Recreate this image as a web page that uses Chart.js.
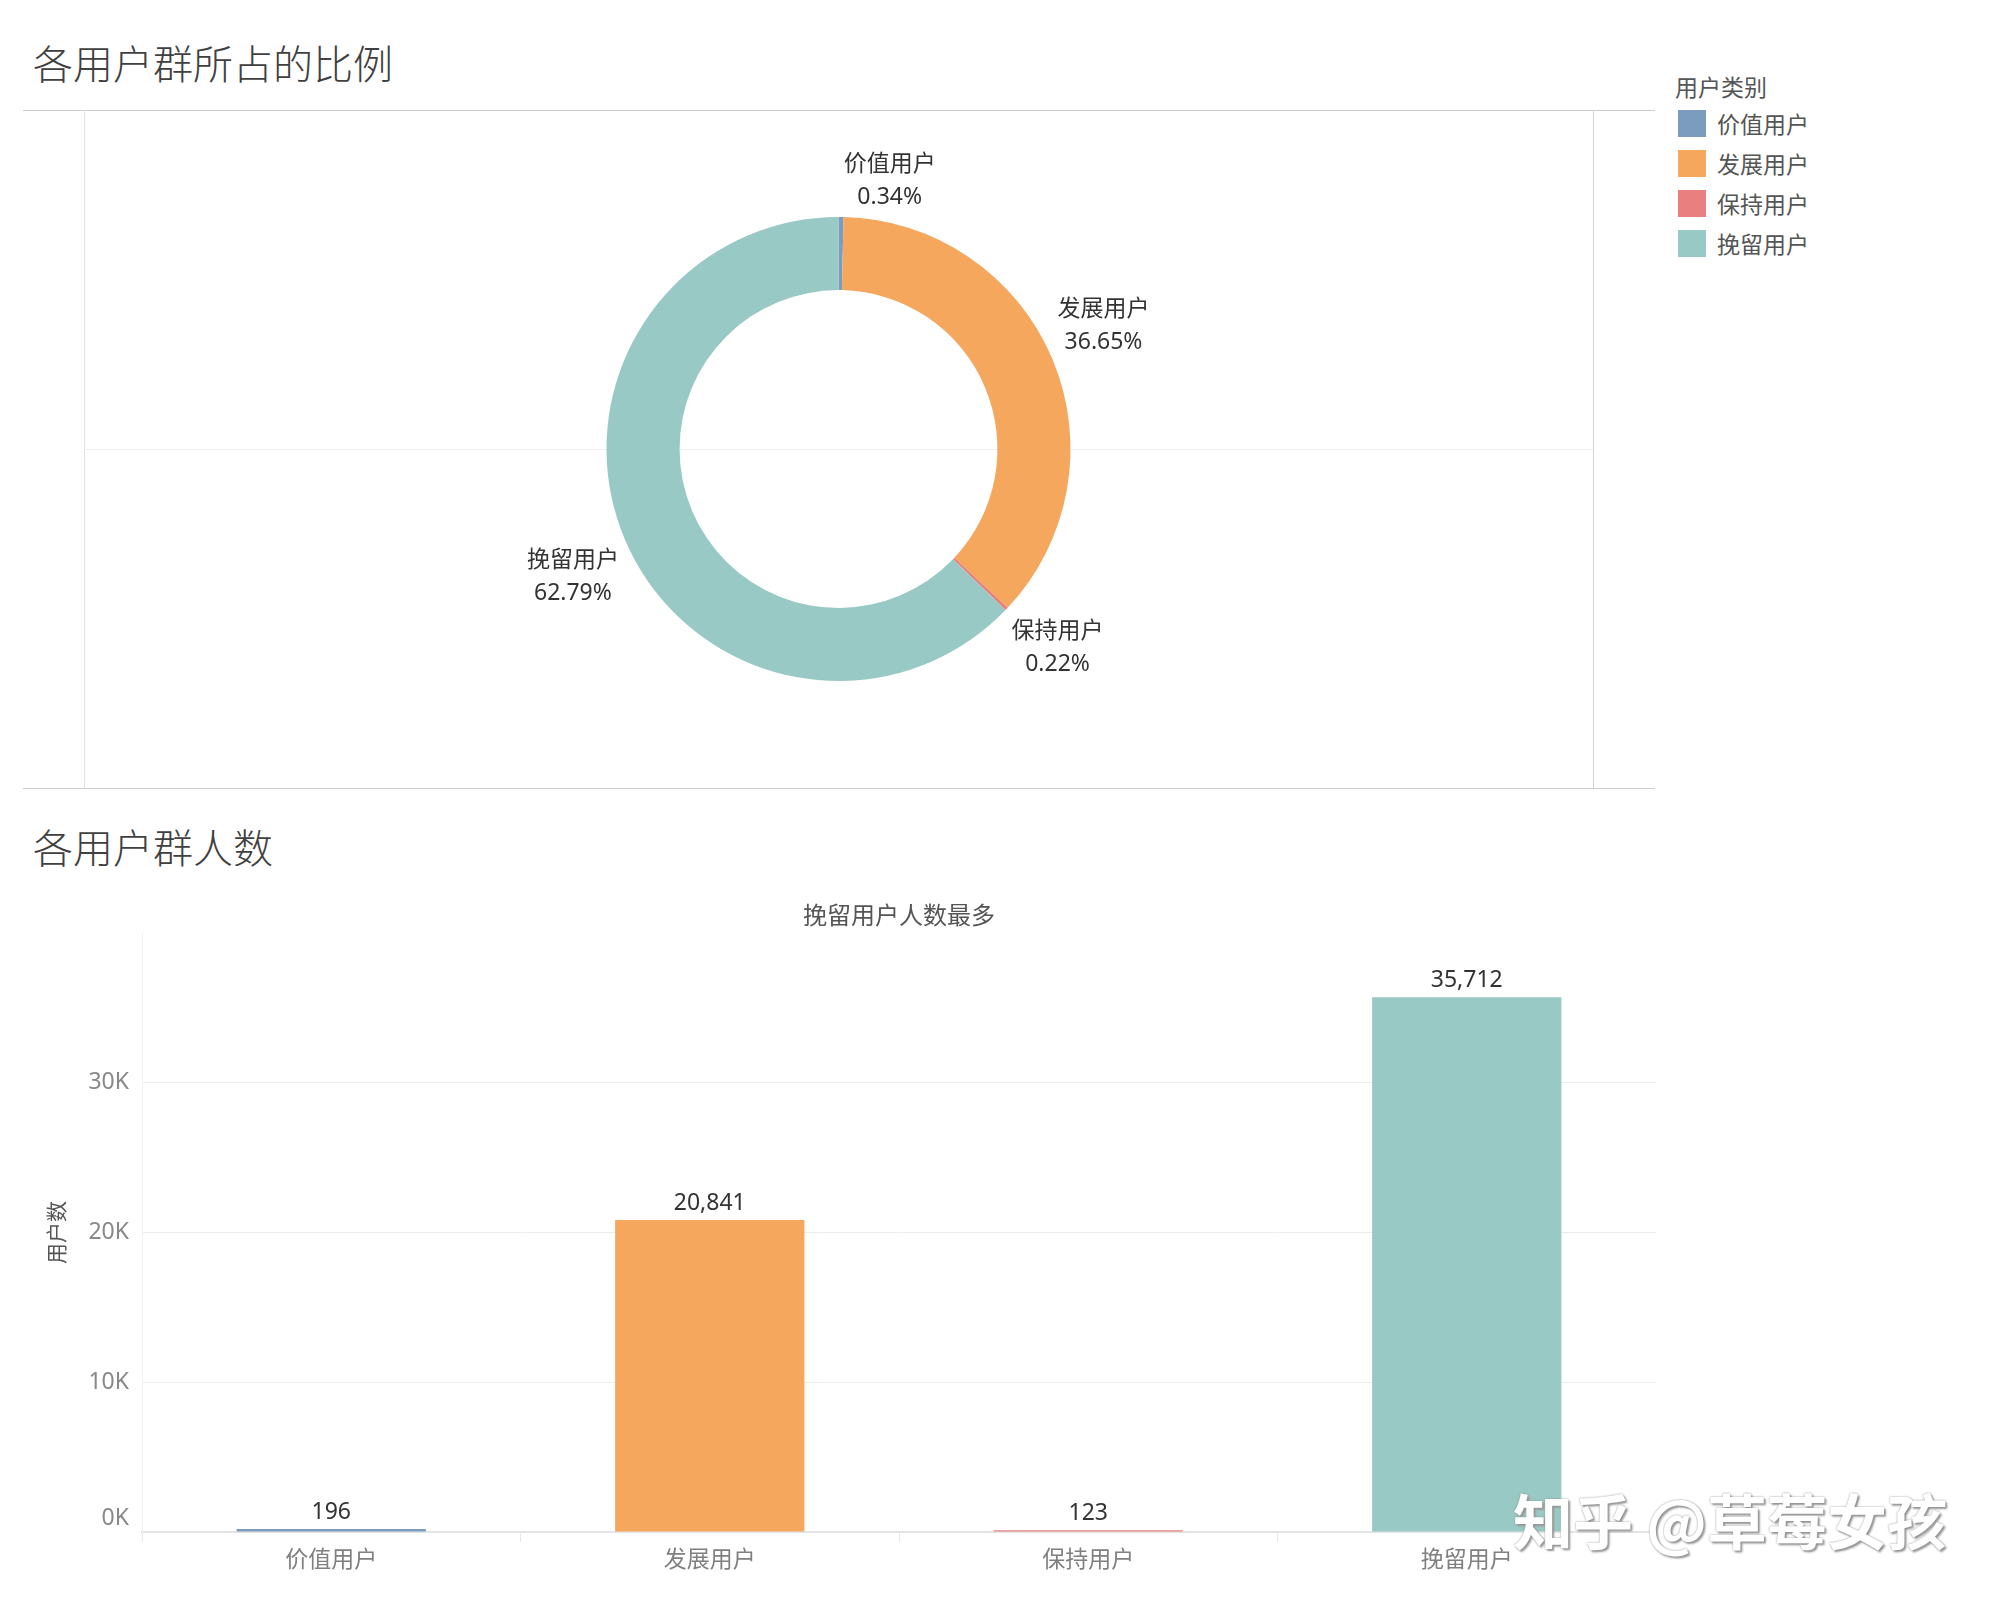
<!DOCTYPE html>
<html>
<head>
<meta charset="utf-8">
<script src="https://cdn.jsdelivr.net/npm/chart.js@4"></script>
<style>
  body { margin: 0; background: #fff; width: 2000px; height: 1600px; position: relative; overflow: hidden;
         font-family: "Noto Sans", "Noto Sans CJK SC", sans-serif; }
  .abs { position: absolute; }
  .title { font-family: "Noto Sans CJK SC", sans-serif; font-size: 40px; font-weight: 300; color: #404040; line-height: 40px; }
  .hl { position: absolute; height: 1px; }
  .vl { position: absolute; width: 1px; }
  #legend { left: 1675px; top: 71px; font-family: "Noto Sans CJK SC", sans-serif; font-size: 23px; color: #555; }
  #legend .item { position: absolute; left: 3px; width: 200px; height: 27px; }
  #legend .sw { position: absolute; left: 0; top: 0; width: 28px; height: 27px; }
  #legend .tx { position: absolute; left: 39px; top: 0; line-height: 27px; white-space: nowrap; }
  #mark { left: 1513px; top: 1475px; font-family: "Noto Sans CJK SC", sans-serif; font-size: 60px; font-weight: bold;
          color: #fff; white-space: nowrap; text-shadow: 0 0 2px #8a8a8a, 2px 2px 2px #9a9a9a; }
</style>
</head>
<body>
<div class="abs title" style="left:33px;top:42px;">各用户群所占的比例</div>
<div class="abs title" style="left:33px;top:826px;">各用户群人数</div>

<div class="hl" style="left:23px;top:110px;width:1632px;background:#cdcdcd;"></div>
<div class="hl" style="left:23px;top:788px;width:1632px;background:#cdcdcd;"></div>
<div class="vl" style="left:84px;top:110px;height:678px;background:#e2e2e2;"></div>
<div class="vl" style="left:1593px;top:110px;height:678px;background:#d4d4d4;"></div>
<div class="hl" style="left:84px;top:449px;width:1509px;background:#efefef;"></div>

<canvas id="pie" class="abs" style="left:84px;top:110px;width:1509px;height:678px;"></canvas>
<div id="legend" class="abs"></div>
<canvas id="bar" class="abs" style="left:0;top:880px;width:1700px;height:720px;"></canvas>
<div id="mark" class="abs">知乎 @草莓女孩</div>

<script>
// data
const categories = ["价值用户", "发展用户", "保持用户", "挽留用户"];
const userCounts = [196, 20841, 123, 35712];
const colors = ["#7b9bbf", "#f4a75d", "#e8807f", "#99c9c4"];
const yTicks = [0, 10000, 20000, 30000];
const legendTitle = "用户类别";
const barSubtitle = "挽留用户人数最多";
const yTitle = "用户数";

const labelFont = '23px "Noto Sans", "Noto Sans CJK SC", sans-serif';

// legend
const legend = document.getElementById('legend');
legend.innerHTML = '<div style="position:absolute;left:0;top:0;line-height:30px;white-space:nowrap;">' + legendTitle + '</div>';
categories.forEach((c, i) => {
  const it = document.createElement('div');
  it.className = 'item';
  it.style.top = (39 + i * 40) + 'px';
  it.innerHTML = '<div class="sw" style="background:' + colors[i] + '"></div><div class="tx">' + c + '</div>';
  legend.appendChild(it);
});

// donut labels outside the ring
const total = userCounts.reduce((a, b) => a + b, 0);
const labelNudge = [[48, 26], [-6, -9], [6, -4], [5, 13]];
const donutLabels = {
  id: 'donutLabels',
  afterDatasetsDraw(chart) {
    const ctx = chart.ctx;
    const meta = chart.getDatasetMeta(0);
    ctx.save();
    ctx.font = labelFont;
    ctx.fillStyle = '#333';
    ctx.textAlign = 'center';
    ctx.textBaseline = 'middle';
    meta.data.forEach((arc, i) => {
      const mid = (arc.startAngle + arc.endAngle) / 2;
      const r = arc.outerRadius + 62;
      const x = arc.x + Math.cos(mid) * r + labelNudge[i][0];
      const y = arc.y + Math.sin(mid) * r + labelNudge[i][1];
      const pct = (userCounts[i] / total * 100).toFixed(2) + '%';
      ctx.fillText(categories[i], x, y - 16.5);
      ctx.fillText(pct, x, y + 16.5);
    });
    ctx.restore();
  }
};

new Chart(document.getElementById('pie'), {
  type: 'doughnut',
  data: {
    labels: categories,
    datasets: [{
      data: userCounts,
      backgroundColor: colors,
      borderWidth: 0
    }]
  },
  options: {
    responsive: false,
    animation: false,
    radius: 232,
    cutout: '68.5%',
    plugins: { legend: { display: false }, tooltip: { enabled: false } }
  },
  plugins: [donutLabels]
});

// bar value labels + subtitle
const barText = {
  id: 'barText',
  afterDatasetsDraw(chart) {
    const ctx = chart.ctx;
    const meta = chart.getDatasetMeta(0);
    ctx.save();
    ctx.font = labelFont;
    ctx.textAlign = 'center';
    ctx.textBaseline = 'bottom';
    ctx.fillStyle = '#333';
    meta.data.forEach((bar, i) => {
      ctx.fillText(userCounts[i].toLocaleString('en-US'), bar.x, bar.y - 5);
    });
    const ca = chart.chartArea;
    ctx.fillStyle = '#555';
    ctx.font = '24px "Noto Sans CJK SC", sans-serif';
    ctx.textBaseline = 'middle';
    ctx.fillText(barSubtitle, (ca.left + ca.right) / 2, 35);
    ctx.restore();
  }
};

new Chart(document.getElementById('bar'), {
  type: 'bar',
  data: {
    labels: categories,
    datasets: [{
      data: userCounts,
      backgroundColor: colors,
      borderWidth: 0,
      categoryPercentage: 1,
      barPercentage: 0.5
    }]
  },
  options: {
    responsive: false,
    animation: false,
    layout: { padding: { top: 53, right: 44, left: 0, bottom: 0 } },
    plugins: { legend: { display: false }, tooltip: { enabled: false } },
    scales: {
      x: {
        afterFit: s => { s.height = 68; },
        grid: { offset: true, drawOnChartArea: false, drawTicks: true, tickLength: 10, color: '#e8e8e8' },
        border: { color: '#e4e4e4', width: 2 },
        ticks: { color: '#808080', padding: 2, font: { size: 23, family: '"Noto Sans CJK SC", sans-serif' } }
      },
      y: {
        min: 0,
        max: 40000,
        afterFit: s => { s.width = 142; },
        afterBuildTicks: s => { s.ticks = yTicks.concat([40000]).map(v => ({ value: v })); },
        grid: {
          drawTicks: false,
          color: c => c.tick && c.tick.value === 40000 ? 'rgba(0,0,0,0)' : '#ececec'
        },
        border: { color: '#f0f0f0' },
        ticks: {
          color: '#888',
          padding: 13,
          font: { size: 23, family: '"Noto Sans", sans-serif' },
          callback: v => v === 40000 ? '' : (v === 0 ? ['0K', ''] : (v / 1000) + 'K')
        },
        title: {
          display: true,
          text: yTitle,
          color: '#555',
          padding: { top: 43, bottom: 0 },
          font: { size: 21, family: '"Noto Sans CJK SC", sans-serif' }
        }
      }
    }
  },
  plugins: [barText]
});
</script>
</body>
</html>
